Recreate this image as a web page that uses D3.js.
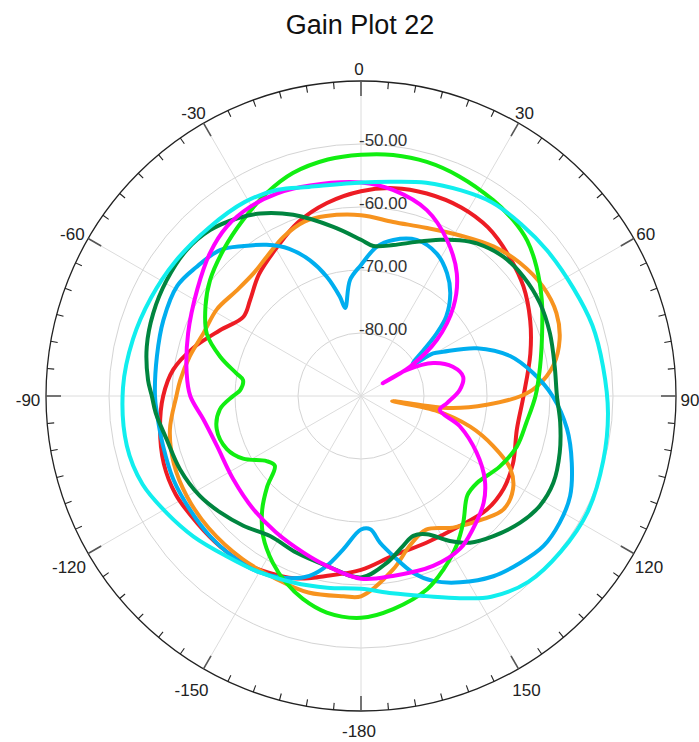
<!DOCTYPE html>
<html>
<head>
<meta charset="utf-8">
<script src="https://cdn.jsdelivr.net/npm/d3@7"></script>
<style>
  body { margin: 0; background: #fff; }
  text { font-family: "Liberation Sans", Arial, sans-serif; }
</style>
</head>
<body>
<svg id="chart" width="699" height="742"></svg>
<script>
// ---- data -------------------------------------------------------------
const chartTitle = "Gain Plot 22";
const dbRange = [-90, -40];                 // centre .. outer ring (dB)
const ringValues = [-80, -70, -60, -50];
const ringLabels = ["-80.00", "-70.00", "-60.00", "-50.00"];
const spokeAngles = [0, 30, 60, 90, 120, 150, 180, 210, 240, 270, 300, 330];
const spokeLabels = ["0", "30", "60", "90", "120", "150", "-180", "-150", "-120", "-90", "-60", "-30"];

// each trace: [angle in degrees, gain in dB]
const traceRed = [
  [-180,-62.4],[-169,-60.9],[-160,-59.2],[-145,-57.6],[-137,-57.3],[-128,-57.1],[-118,-56.7],
  [-109,-56.9],[-99,-57.7],[-90,-58.6],[-82,-59.9],[-74,-62.3],[-65,-65.3],[-56,-67.5],
  [-49,-66.7],[-40,-64.8],[-29,-62.8],[-20,-60.7],[-10,-58.9],[0,-57.5],[9,-56.6],[18,-56.2],
  [28,-56.1],[37,-56.5],[46,-57.6],[56,-58.9],[66,-60.6],[76,-62.3],[90,-64.2],[102,-64.7],
  [114,-63.6],[123,-63.0],[132,-63.1],[143,-64.1],[156,-64.5],[169,-64.1]
];
const traceOrange = [
  [-180,-58.2],[-175,-58.1],[-165,-57.7],[-155,-58.0],[-144,-58.0],[-131,-58.0],[-120,-58.1],
  [-110,-58.4],[-100,-59.2],[-90,-60.7],[-85,-61.2],[-77,-62.1],[-68,-63.1],[-59,-63.3],
  [-50,-64.1],[-41,-64.1],[-34,-63.3],[-26,-61.9],[-18,-60.9],[-11,-60.9],[0,-61.3],
  [10.5,-61.9],[21,-61.4],[32,-60.0],[41.5,-58.3],[50,-57.1],[59,-56.3],[67,-56.3],[74,-57.2],
  [81,-59.1],[87,-62.1],[90,-64.6],[94,-70.0],[97.5,-75.3],[98.6,-80.5],[99.2,-85.0],
  [101,-78.0],[105.7,-72.0],[110.7,-67.6],[116,-63.6],[121.5,-61.7],[128.5,-61.1],
  [135,-62.4],[145,-64.5],[154,-66.4],[162,-65.0],[169.5,-62.0]
];
const traceBlue = [
  [-180,-68.8],[-173.4,-65.5],[-168.6,-62.5],[-164,-60.3],[-159,-59.0],[-150,-57.7],[-143,-57.4],
  [-133,-57.3],[-123.5,-57.4],[-114,-57.4],[-104,-57.6],[-95,-57.5],[-90,-57.3],[-79,-57.0],
  [-69,-56.4],[-59,-56.0],[-52,-56.8],[-44,-57.8],[-38,-59.8],[-32,-61.7],[-26,-64.0],
  [-20.6,-67.0],[-16,-70.3],[-12,-73.9],[-10.2,-75.8],[-5.4,-71.5],[0,-69.2],[6,-66.2],
  [11.7,-64.7],[19.6,-63.7],[28,-64.4],[35,-66.2],[41,-68.4],[47,-71.5],[50.4,-74.4],
  [53,-77.0],[58.4,-80.4],[59.5,-76.7],[61.7,-75.2],[67.6,-70.1],[75,-65.5],[82.5,-62.4],
  [90,-59.6],[99,-56.9],[107.6,-54.9],[115.6,-53.2],[122.5,-52.6],[129.4,-52.5],[136.4,-53.4],
  [143.7,-54.5],[152,-56.5],[158.7,-58.5],[163.5,-60.7],[168.6,-64.1],[172.6,-66.5],[176,-68.8]
];
const traceMagenta = [
  [-180,-61.0],[-168.6,-62.5],[-160,-63.5],[-148,-64.5],[-136.5,-65.2],[-123,-65.8],[-109,-65.8],
  [-98.4,-64.7],[-90,-62.9],[-82.6,-62.1],[-70,-60.8],[-57,-59.0],[-46.6,-57.0],[-38.4,-55.7],
  [-30.4,-55.2],[-22.6,-55.2],[-13.6,-55.6],[0,-56.1],[8.8,-56.9],[19.5,-58.7],[28.8,-61.7],
  [38,-65.3],[46,-69.6],[53.5,-75.0],[59.1,-80.9],[59.6,-86.0],[60.4,-81.6],[65.4,-77.4],
  [72.3,-74.7],[79.3,-73.5],[86.5,-74.3],[94.7,-76.3],[100,-77.3],[107,-73.6],[116,-69.6],
  [124,-66.3],[131,-64.2],[140,-62.4],[147,-61.1],[157,-60.7],[170,-61.0]
];
const traceGreen = [
  [-180,-54.8],[-171,-55.2],[-164,-56.5],[-158,-58.1],[-152,-60.1],[-145,-62.9],[-139,-66.1],
  [-134,-69.3],[-129,-72.4],[-124.6,-71.8],[-118,-68.8],[-111.6,-67.1],[-103,-66.5],
  [-95.4,-67.5],[-90,-69.7],[-87.2,-70.8],[-82.3,-71.1],[-79.7,-69.9],[-74.4,-66.8],[-68,-63.6],
  [-60,-61.5],[-52.5,-59.8],[-43,-58.1],[-34,-56.4],[-25,-54.5],[-17,-53.0],[-8,-52.1],
  [0,-51.7],[7.6,-51.4],[15.7,-51.4],[24,-51.8],[34,-52.5],[41,-53.1],[47,-53.9],[53.6,-55.4],
  [62,-57.5],[71,-59.6],[80.7,-61.2],[90,-62.3],[99,-63.4],[108,-64.0],[117,-65.3],[127,-67.0],
  [133,-66.9],[141,-64.2],[147.5,-61.8],[154.6,-59.5],[161,-57.6],[171.4,-55.8]
];
const traceDarkGreen = [
  [-180,-61.2],[-168.6,-62.5],[-157.7,-63.1],[-147,-63.5],[-137.8,-62.2],[-129.6,-61.0],
  [-121.8,-59.9],[-112,-59.0],[-102.6,-58.4],[-94.7,-57.3],[-90,-56.8],[-85.7,-56.1],[-77,-55.1],
  [-68.3,-54.5],[-59.2,-54.1],[-50.1,-53.9],[-42.3,-54.4],[-35,-55.6],[-28.9,-56.9],[-20.5,-59.3],
  [-9.3,-62.8],[0,-65.2],[4.7,-66.1],[12.1,-65.5],[19.8,-64.0],[26.9,-62.2],[32.4,-60.7],
  [37.2,-59.6],[45.6,-58.4],[53.7,-58.0],[62.6,-58.0],[71.6,-58.4],[81.4,-58.9],[90,-58.9],
  [97.6,-58.1],[105.9,-57.2],[114.3,-56.5],[121.6,-56.7],[128.5,-57.7],[136.6,-59.4],
  [143.4,-61.0],[148.5,-63.0],[154.6,-65.7],[159.5,-66.3],[164.3,-65.3],[171.2,-63.2]
];
const traceCyan = [
  [-180,-59.4],[-170,-59.1],[-160,-58.5],[-150,-57.7],[-140,-56.8],[-130,-55.3],[-121,-54.0],
  [-112,-52.6],[-102,-52.0],[-88,-52.2],[-76,-52.7],[-65,-53.2],[-54,-53.6],[-42,-54.0],
  [-31,-54.1],[-22,-54.7],[-14,-55.8],[0,-56.1],[8.5,-55.6],[17,-54.6],[26,-53.7],[34,-52.9],
  [43,-52.7],[52,-52.5],[63,-52.2],[73,-51.6],[83,-51.3],[94,-50.7],[105,-50.2],[117,-49.6],
  [128,-49.8],[138,-50.3],[147,-52.0],[154,-54.3],[162,-56.6],[171,-58.3]
];

const traces = [traceRed, traceOrange, traceBlue, traceGreen, traceDarkGreen, traceMagenta, traceCyan];
const traceColors = ["#ed1c24", "#f7931e", "#00aeef", "#11ee11", "#00853f", "#ff00ff", "#11eeee"];

// ---- layout -----------------------------------------------------------
const svg = d3.select("#chart");
const cx = 361, cy = 396, R = 315;
const rad = d3.scaleLinear().domain(dbRange).range([0, R]);
const toRad = a => a * Math.PI / 180;

svg.append("text")
  .attr("x", 360).attr("y", 34)
  .attr("text-anchor", "middle")
  .attr("font-size", 27)
  .attr("fill", "#111")
  .text(chartTitle);

const g = svg.append("g").attr("transform", `translate(${cx},${cy})`);

// grid rings
g.selectAll("circle.ring").data(ringValues).join("circle")
  .attr("class", "ring")
  .attr("r", d => rad(d))
  .attr("fill", "none").attr("stroke", "#d4d4d4").attr("stroke-width", 1);

// spokes
g.selectAll("line.spoke").data(spokeAngles).join("line")
  .attr("class", "spoke")
  .attr("x1", 0).attr("y1", 0)
  .attr("x2", d => R * Math.sin(toRad(d)))
  .attr("y2", d => -R * Math.cos(toRad(d)))
  .attr("stroke", "#dcdcdc").attr("stroke-width", 1);

// outer ring with 5-degree ticks
g.append("circle").attr("r", R).attr("fill", "none")
  .attr("stroke", "#222").attr("stroke-width", 1.3);
g.selectAll("line.tick").data(d3.range(0, 360, 5)).join("line")
  .attr("class", "tick")
  .attr("x1", d => R * Math.sin(toRad(d)))
  .attr("y1", d => -R * Math.cos(toRad(d)))
  .attr("x2", d => (R - (d % 30 === 0 ? 15 : 7)) * Math.sin(toRad(d)))
  .attr("y2", d => -(R - (d % 30 === 0 ? 15 : 7)) * Math.cos(toRad(d)))
  .attr("stroke", d => d % 30 === 0 ? "#555" : "#222")
  .attr("stroke-width", d => d % 30 === 0 ? 1.6 : 1.1);

// angle labels (slightly further out on the lower half)
const labelRadius = d => 331 + 6 * Math.max(0, -Math.cos(toRad(d))) * Math.abs(Math.sin(toRad(d))) * 1.5;
g.selectAll("text.ang").data(spokeAngles).join("text")
  .attr("class", "ang")
  .attr("x", d => -2 + labelRadius(d) * Math.sin(toRad(d)))
  .attr("y", d => 4 - labelRadius(d) * Math.cos(toRad(d)))
  .attr("text-anchor", "middle")
  .attr("dominant-baseline", "central")
  .attr("font-size", 17)
  .attr("fill", "#222")
  .text((d, i) => spokeLabels[i]);

// ring labels
g.selectAll("text.ringlab").data(ringValues).join("text")
  .attr("class", "ringlab")
  .attr("x", -2)
  .attr("y", d => -rad(d) + 2)
  .attr("font-size", 17)
  .attr("fill", "#333")
  .text((d, i) => ringLabels[i]);

// traces
const line = d3.lineRadial()
  .angle(d => toRad(d[0]))
  .radius(d => rad(d[1]))
  .curve(d3.curveCatmullRomClosed.alpha(0.5));

g.selectAll("path.trace").data(traces).join("path")
  .attr("class", "trace")
  .attr("d", line)
  .attr("fill", "none")
  .attr("stroke", (d, i) => traceColors[i])
  .attr("stroke-width", 4)
  .attr("stroke-linejoin", "round");
</script>
</body>
</html>
